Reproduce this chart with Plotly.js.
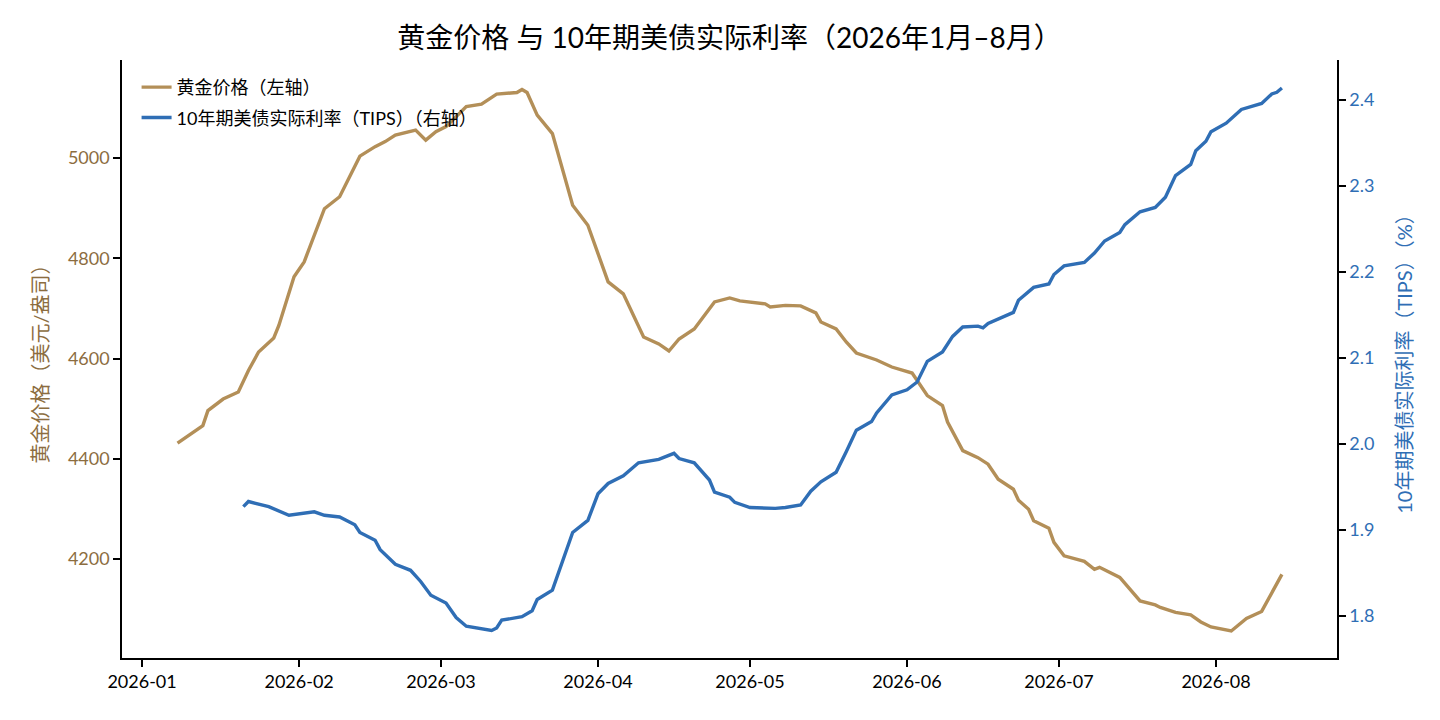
<!DOCTYPE html>
<html>
<head>
<meta charset="utf-8">
<script src="https://cdn.plot.ly/plotly-3.0.1.min.js"></script>
<style>
  html, body { margin: 0; padding: 0; background: #fff; }
  #chart { width: 1440px; height: 720px; }
</style>
</head>
<body>
<div id="chart"></div>
<script>
// Gold price (USD/oz)
const goldDates = [
    '2026-01-08', '2026-01-13', '2026-01-14', '2026-01-17', '2026-01-20', '2026-01-22', '2026-01-24',
    '2026-01-27', '2026-01-28', '2026-01-31', '2026-02-02', '2026-02-06', '2026-02-09', '2026-02-13',
    '2026-02-16', '2026-02-18', '2026-02-20', '2026-02-24', '2026-02-26', '2026-02-28', '2026-03-02',
    '2026-03-06', '2026-03-09', '2026-03-12', '2026-03-16', '2026-03-17', '2026-03-18', '2026-03-20',
    '2026-03-23', '2026-03-27', '2026-03-30', '2026-04-03', '2026-04-06', '2026-04-10', '2026-04-13',
    '2026-04-15', '2026-04-17', '2026-04-20', '2026-04-24', '2026-04-27', '2026-04-29', '2026-05-04',
    '2026-05-05', '2026-05-08', '2026-05-11', '2026-05-14', '2026-05-15', '2026-05-18', '2026-05-20',
    '2026-05-22', '2026-05-26', '2026-05-29', '2026-06-02', '2026-06-05', '2026-06-08', '2026-06-09',
    '2026-06-12', '2026-06-15', '2026-06-17', '2026-06-19', '2026-06-22', '2026-06-23', '2026-06-25',
    '2026-06-26', '2026-06-29', '2026-06-30', '2026-07-02', '2026-07-06', '2026-07-08', '2026-07-09',
    '2026-07-13', '2026-07-16', '2026-07-17', '2026-07-20', '2026-07-21', '2026-07-24', '2026-07-27',
    '2026-07-29', '2026-07-31', '2026-08-04', '2026-08-07', '2026-08-10', '2026-08-14'
];
const goldValues = [
    4431, 4466, 4496, 4519, 4533, 4576, 4613,
    4641, 4666, 4763, 4793, 4899, 4923, 5004,
    5023, 5033, 5046, 5056, 5036, 5053, 5063,
    5103, 5108, 5128, 5131, 5137, 5131, 5086,
    5049, 4906, 4866, 4753, 4729, 4643, 4629,
    4615, 4639, 4659, 4713, 4721, 4715, 4709,
    4703, 4706, 4705, 4691, 4673, 4659, 4633,
    4611, 4597, 4583, 4571, 4526, 4506, 4473,
    4416, 4402, 4389, 4359, 4339, 4317, 4299,
    4276, 4261, 4233, 4206, 4195, 4179, 4183,
    4163, 4126, 4116, 4108, 4103, 4093, 4088,
    4074, 4064, 4056, 4081, 4095, 4169
];

// 10Y TIPS real yield (%)
const tipsDates = [
    '2026-01-21', '2026-01-22', '2026-01-26', '2026-01-30', '2026-02-04', '2026-02-06', '2026-02-09',
    '2026-02-12', '2026-02-13', '2026-02-16', '2026-02-17', '2026-02-20', '2026-02-23', '2026-02-25',
    '2026-02-27', '2026-03-02', '2026-03-04', '2026-03-06', '2026-03-11', '2026-03-12', '2026-03-13',
    '2026-03-17', '2026-03-19', '2026-03-20', '2026-03-23', '2026-03-25', '2026-03-27', '2026-03-30',
    '2026-04-01', '2026-04-03', '2026-04-06', '2026-04-09', '2026-04-13', '2026-04-16', '2026-04-17',
    '2026-04-20', '2026-04-23', '2026-04-24', '2026-04-27', '2026-04-28', '2026-05-01', '2026-05-06',
    '2026-05-08', '2026-05-11', '2026-05-13', '2026-05-15', '2026-05-18', '2026-05-20', '2026-05-22',
    '2026-05-25', '2026-05-26', '2026-05-29', '2026-06-01', '2026-06-03', '2026-06-05', '2026-06-08',
    '2026-06-10', '2026-06-12', '2026-06-15', '2026-06-16', '2026-06-17', '2026-06-22', '2026-06-23',
    '2026-06-26', '2026-06-29', '2026-06-30', '2026-07-02', '2026-07-06', '2026-07-08', '2026-07-10',
    '2026-07-13', '2026-07-14', '2026-07-17', '2026-07-20', '2026-07-22', '2026-07-24', '2026-07-27',
    '2026-07-28', '2026-07-30', '2026-07-31', '2026-08-03', '2026-08-06', '2026-08-10', '2026-08-12',
    '2026-08-13', '2026-08-14'
];
const tipsValues = [
    1.927, 1.933, 1.927, 1.917, 1.921, 1.917, 1.915,
    1.906, 1.897, 1.888, 1.877, 1.860, 1.853, 1.840,
    1.824, 1.815, 1.798, 1.788, 1.783, 1.786, 1.795,
    1.799, 1.806, 1.819, 1.830, 1.865, 1.897, 1.911,
    1.942, 1.954, 1.963, 1.978, 1.982, 1.989, 1.983,
    1.978, 1.958, 1.944, 1.938, 1.932, 1.926, 1.925,
    1.926, 1.929, 1.945, 1.956, 1.967, 1.991, 2.016,
    2.026, 2.036, 2.057, 2.063, 2.072, 2.096, 2.107,
    2.125, 2.136, 2.137, 2.135, 2.140, 2.153, 2.167,
    2.182, 2.186, 2.197, 2.207, 2.211, 2.222, 2.236,
    2.246, 2.255, 2.270, 2.275, 2.287, 2.312, 2.325,
    2.341, 2.352, 2.363, 2.373, 2.389, 2.396, 2.407,
    2.409, 2.414
];

const GOLD = '#b38f58';
const GOLD_TEXT = '#8c6d3f';
const BLUE = '#2f6eb5';
const FONT = 'Lato, "Noto Sans CJK SC", sans-serif';

const goldTrace = {
    x: goldDates,
    y: goldValues,
    type: 'scatter',
    mode: 'lines',
    name: '黄金价格（左轴）',
    legendgroup: 'gold',
    line: { color: GOLD, width: 3.4 },
    yaxis: 'y'
};

const tipsTrace = {
    x: tipsDates,
    y: tipsValues,
    type: 'scatter',
    mode: 'lines',
    name: '10年期美债实际利率（TIPS）（右轴）',
    legendgroup: 'tips',
    line: { color: BLUE, width: 3.4 },
    yaxis: 'y2'
};

const layout = {
    width: 1440,
    height: 720,
    paper_bgcolor: '#ffffff',
    plot_bgcolor: '#ffffff',
    font: { family: FONT, size: 17, color: '#000' },
    margin: { l: 122, r: 103, t: 60, b: 62 },
    title: {
        text: '黄金价格 与 10年期美债实际利率（2026年1月–8月）',
        font: { size: 28, color: '#000' },
        x: 0.5,
        xref: 'paper',
        y: 0.947,
        yanchor: 'middle'
    },
    showlegend: true,
    legend: {
        x: 0.012,
        y: 0.985,
        xanchor: 'left',
        yanchor: 'top',
        bgcolor: 'rgba(0,0,0,0)',
        font: { size: 18, color: '#000' },
        traceorder: 'grouped',
        tracegroupgap: 4
    },
    xaxis: {
        type: 'date',
        range: ['2025-12-28 01:00', '2026-08-24 21:00'],
        dtick: 'M1',
        tick0: '2026-01-01',
        tickformat: '%Y-%m',
        showgrid: false,
        zeroline: false,
        showline: true,
        linecolor: '#000',
        linewidth: 1.5,
        ticks: 'outside',
        ticklen: 7,
        tickwidth: 1.5,
        tickcolor: '#000',
        tickfont: { size: 18, color: '#000' }
    },
    yaxis: {
        range: [4002, 5196],
        tickvals: [4200, 4400, 4600, 4800, 5000],
        showgrid: false,
        zeroline: false,
        showline: true,
        linecolor: '#000',
        linewidth: 1.5,
        ticks: 'outside',
        ticklen: 7,
        tickwidth: 1.5,
        tickcolor: '#000',
        tickfont: { size: 18, color: GOLD_TEXT },
        title: {
            text: '黄金价格（美元/盎司）',
            font: { size: 20, color: GOLD_TEXT },
            standoff: 14
        }
    },
    yaxis2: {
        overlaying: 'y',
        side: 'right',
        range: [1.751, 2.4465],
        tickvals: [1.8, 1.9, 2.0, 2.1, 2.2, 2.3, 2.4],
        tickformat: '.1f',
        showgrid: false,
        zeroline: false,
        showline: true,
        linecolor: '#000',
        linewidth: 1.5,
        ticks: 'outside',
        ticklen: 7,
        tickwidth: 1.5,
        tickcolor: '#000',
        tickfont: { size: 18, color: BLUE },
        title: {
            text: '10年期美债实际利率（TIPS）（%）',
            font: { size: 20, color: BLUE },
            standoff: 25
        }
    }
};

Plotly.newPlot('chart', [goldTrace, tipsTrace], layout, { displayModeBar: false, responsive: false });
</script>
</body>
</html>
